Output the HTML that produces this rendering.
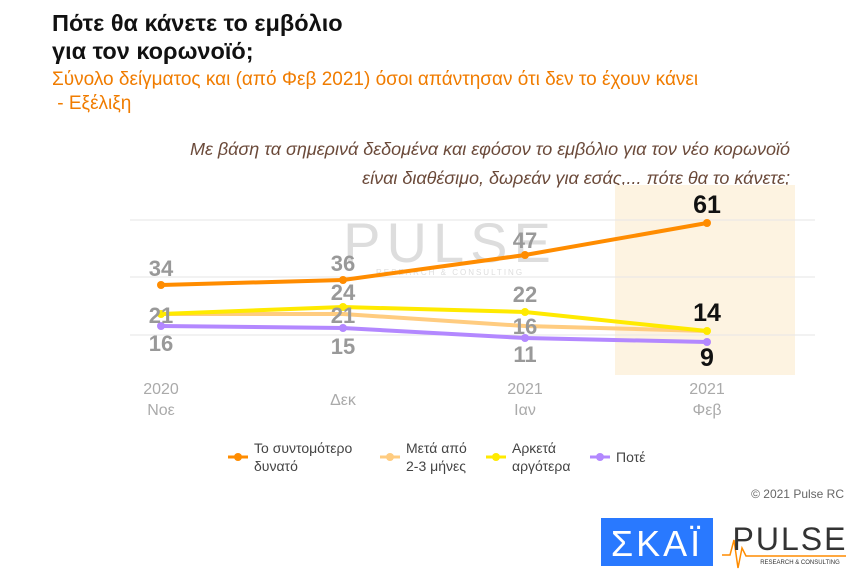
<!DOCTYPE html><html><head><meta charset="utf-8"><style>
body{margin:0;width:868px;height:584px;background:#fff;font-family:"Liberation Sans","DejaVu Sans",sans-serif;overflow:hidden;position:relative}
.t{position:absolute;white-space:nowrap}
</style></head><body>
<div class="t" style="left:52px;top:9px;font-size:23.5px;font-weight:bold;color:#111;line-height:28px">Πότε θα κάνετε το εμβόλιο<br>για τον κορωνοϊό;</div>
<div class="t" style="left:52px;top:68px;font-size:19px;color:#f07c00;line-height:24px">Σύνολο δείγματος και (από Φεβ 2021) όσοι απάντησαν ότι δεν το έχουν κάνει<br>&nbsp;- Εξέλιξη</div>
<div class="t" style="right:78px;top:135px;font-size:18px;font-style:italic;color:#6b4a3a;text-align:right;line-height:29px">Με βάση τα σημερινά δεδομένα και εφόσον το εμβόλιο για τον νέο κορωνοϊό<br>είναι διαθέσιμο, δωρεάν για εσάς,... πότε θα το κάνετε;</div>
<svg width="868" height="584" style="position:absolute;left:0;top:0" font-family="Liberation Sans Narrow,Liberation Sans,sans-serif">
<rect x="615" y="185" width="180" height="190" fill="#fdf3e1"/>
<g stroke="#e6e6e6" stroke-width="1"><line x1="130" y1="220" x2="815" y2="220"/><line x1="130" y1="277" x2="815" y2="277"/><line x1="130" y1="335" x2="815" y2="335"/></g>
<text x="450" y="262" font-size="56" fill="#ddd" text-anchor="middle" font-weight="300" letter-spacing="6">PULSE</text>
<text x="450" y="275" font-size="8" fill="#ddd" text-anchor="middle" letter-spacing="2">RESEARCH &amp; CONSULTING</text>
<g fill="none" stroke-width="4" stroke-linejoin="round">
<polyline points="161,314 343,314 525,326 707,331" stroke="#ffcc80"/>
<polyline points="161,326 343,328 525,338 707,342" stroke="#b388ff"/>
<polyline points="161,314 343,307 525,312 707,331" stroke="#ffea00"/>
<polyline points="161,285 343,280 525,255 707,223" stroke="#ff8c00"/>
</g>
<g fill="#ff8c00"><circle cx="161" cy="285" r="4"/><circle cx="343" cy="280" r="4"/><circle cx="525" cy="255" r="4"/><circle cx="707" cy="223" r="4"/></g>
<g fill="#ffea00"><circle cx="161" cy="314" r="4"/><circle cx="343" cy="307" r="4"/><circle cx="525" cy="312" r="4"/><circle cx="707" cy="331" r="4"/></g>
<g fill="#b388ff"><circle cx="161" cy="326" r="4"/><circle cx="343" cy="328" r="4"/><circle cx="525" cy="338" r="4"/><circle cx="707" cy="342" r="4"/></g>
<g font-size="22" font-weight="bold" fill="#999" text-anchor="middle">
<text x="161" y="276">34</text><text x="343" y="271">36</text><text x="525" y="248">47</text>
<text x="161" y="323">21</text><text x="343" y="300">24</text><text x="525" y="302">22</text>
<text x="343" y="323">21</text><text x="525" y="334">16</text>
<text x="161" y="351">16</text><text x="343" y="354">15</text><text x="525" y="362">11</text>
</g>
<g font-size="25" font-weight="bold" fill="#111" text-anchor="middle">
<text x="707" y="213">61</text><text x="707" y="321">14</text><text x="707" y="366">9</text>
</g>
<g font-size="16" fill="#aaa" text-anchor="middle">
<text x="161" y="394">2020</text><text x="161" y="415">Νοε</text>
<text x="343" y="405">Δεκ</text>
<text x="525" y="394">2021</text><text x="525" y="415">Ιαν</text>
<text x="707" y="394">2021</text><text x="707" y="415">Φεβ</text>
</g>
<g stroke-width="3"><line x1="228" y1="457" x2="248" y2="457" stroke="#ff8c00"/><circle cx="238" cy="457" r="4" fill="#ff8c00"/>
<line x1="380" y1="457" x2="400" y2="457" stroke="#ffcc80"/><circle cx="390" cy="457" r="4" fill="#ffcc80"/>
<line x1="486" y1="457" x2="506" y2="457" stroke="#ffea00"/><circle cx="496" cy="457" r="4" fill="#ffea00"/>
<line x1="590" y1="457" x2="610" y2="457" stroke="#b388ff"/><circle cx="600" cy="457" r="4" fill="#b388ff"/></g>
<g font-size="14" fill="#444"><text x="254" y="453">Το συντομότερο</text><text x="254" y="471">δυνατό</text>
<text x="406" y="453">Μετά από</text><text x="406" y="471">2-3 μήνες</text>
<text x="512" y="453">Αρκετά</text><text x="512" y="471">αργότερα</text>
<text x="616" y="462">Ποτέ</text></g>
<text x="844" y="498" font-size="12" fill="#666" text-anchor="end">© 2021 Pulse RC</text>
<rect x="601" y="518" width="112" height="48" fill="#2979ff"/>
<text x="657" y="556" font-size="36" fill="#fff" text-anchor="middle" letter-spacing="3">ΣΚΑΪ</text>
<polyline points="722,555 730,555 734,540 738,568 742,548 746,556 846,556" fill="none" stroke="#ff8c00" stroke-width="1.5"/>
<text x="790" y="550" font-size="32" fill="#333" text-anchor="middle" letter-spacing="2">PULSE</text>
<text x="800" y="564" font-size="6" fill="#333" text-anchor="middle">RESEARCH &amp; CONSULTING</text>
</svg>
</body></html>
